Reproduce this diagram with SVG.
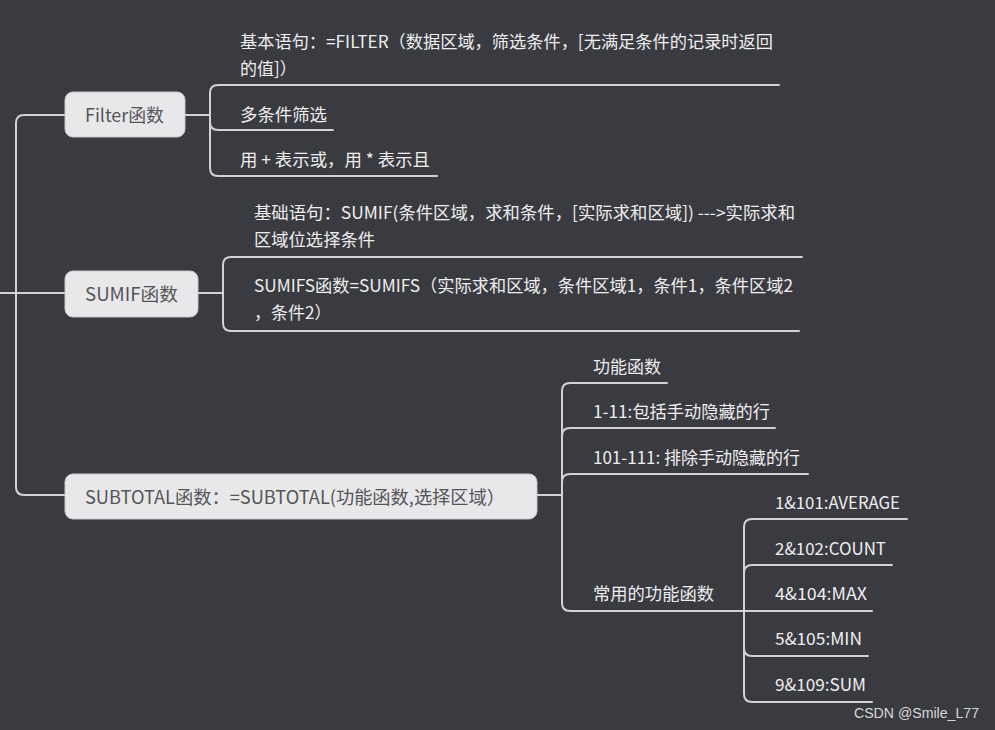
<svg xmlns="http://www.w3.org/2000/svg" width="995" height="730" viewBox="0 0 995 730">
<style>
.bg{fill:#3a3b41}
.c{fill:none;stroke:#d2d2d4;stroke-width:2;stroke-linecap:round}
.n{fill:#e8e8ea;stroke:#c8c8ca;stroke-width:1}
.nt{font-family:"Noto Sans CJK SC","Noto Sans",sans-serif;font-size:18px;fill:#555558;dominant-baseline:central}
.t{font-family:"Noto Sans CJK SC","Noto Sans",sans-serif;font-size:17px;fill:#eeeeee;dominant-baseline:central}
.w{font-family:"Liberation Sans",Arial,sans-serif;font-size:14px;fill:#d8d8d8}
</style>
<rect class="bg" x="0" y="0" width="995" height="730"/>
<g id="connectors">
<path class="c" d="M0,293 H16 M16,293 V123 Q16,115 24,115 H65 M16,293 V487 Q16,495 24,495 H65 M16,293 H65"/>
<path class="c" d="M185,115 H210 M210,115 V93 Q210,85 218,85 H779 M210,115 V122 Q210,130 218,130 H333 M210,115 V168 Q210,176 218,176 H437"/>
<path class="c" d="M198,293 H223 M223,293 V265 Q223,257 231,257 H802 M223,293 V323 Q223,331 231,331 H799"/>
<path class="c" d="M537,495 H562 M562,495 V391 Q562,383 570,383 H667 M562,495 V436 Q562,428 570,428 H775 M562,495 V482 Q562,474 570,474 H808 M562,495 V603 Q562,611 570,611 H744"/>
<path class="c" d="M744,611 H872 M744,611 V527 Q744,519 752,519 H907 M744,611 V573 Q744,565 752,565 H892 M744,611 V648 Q744,656 752,656 H868 M744,611 V694 Q744,702 752,702 H872"/>
</g>
<g id="filter">
<rect class="n" x="65" y="92" width="120" height="45" rx="8"/>
<text class="nt" x="85" y="114" textLength="79" lengthAdjust="spacingAndGlyphs">Filter函数</text>
</g>
<g id="filter-syntax">
<text class="t" x="240" y="40" textLength="533" lengthAdjust="spacingAndGlyphs">基本语句：=FILTER（数据区域，筛选条件，[无满足条件的记录时返回</text>
<text class="t" x="240" y="67">的值]）</text>
</g>
<g id="filter-multi"><text class="t" x="240" y="113" textLength="87" lengthAdjust="spacingAndGlyphs">多条件筛选</text></g>
<g id="filter-or"><text class="t" x="240" y="158" textLength="190" lengthAdjust="spacingAndGlyphs">用 + 表示或，用 * 表示且</text></g>
<g id="sumif">
<rect class="n" x="65" y="271" width="133" height="46" rx="8"/>
<text class="nt" x="85" y="293" textLength="93" lengthAdjust="spacingAndGlyphs">SUMIF函数</text>
</g>
<g id="sumif-syntax">
<text class="t" x="254" y="211" textLength="541" lengthAdjust="spacingAndGlyphs">基础语句：SUMIF(条件区域，求和条件，[实际求和区域]) ---&gt;实际求和</text>
<text class="t" x="254" y="238" textLength="121" lengthAdjust="spacingAndGlyphs">区域位选择条件</text>
</g>
<g id="sumifs">
<text class="t" x="254" y="284" textLength="539" lengthAdjust="spacingAndGlyphs">SUMIFS函数=SUMIFS（实际求和区域，条件区域1，条件1，条件区域2</text>
<text class="t" x="254" y="311">，条件2）</text>
</g>
<g id="subtotal">
<rect class="n" x="65" y="474" width="472" height="45" rx="8"/>
<text class="nt" x="85" y="496" textLength="420" lengthAdjust="spacingAndGlyphs">SUBTOTAL函数：=SUBTOTAL(功能函数,选择区域）</text>
</g>
<g id="func"><text class="t" x="593" y="365" textLength="68" lengthAdjust="spacingAndGlyphs">功能函数</text></g>
<g id="include"><text class="t" x="593" y="410" textLength="177" lengthAdjust="spacingAndGlyphs">1-11:包括手动隐藏的行</text></g>
<g id="exclude"><text class="t" x="593" y="456" textLength="207" lengthAdjust="spacingAndGlyphs">101-111: 排除手动隐藏的行</text></g>
<g id="common"><text class="t" x="593" y="592" textLength="121" lengthAdjust="spacingAndGlyphs">常用的功能函数</text></g>
<g id="avg"><text class="t" x="775" y="501" textLength="125" lengthAdjust="spacingAndGlyphs">1&amp;101:AVERAGE</text></g>
<g id="count"><text class="t" x="775" y="547" textLength="111" lengthAdjust="spacingAndGlyphs">2&amp;102:COUNT</text></g>
<g id="max"><text class="t" x="775" y="592" textLength="92" lengthAdjust="spacingAndGlyphs">4&amp;104:MAX</text></g>
<g id="min"><text class="t" x="775" y="637" textLength="87" lengthAdjust="spacingAndGlyphs">5&amp;105:MIN</text></g>
<g id="sum"><text class="t" x="775" y="683" textLength="91" lengthAdjust="spacingAndGlyphs">9&amp;109:SUM</text></g>
<text class="w" x="854" y="718" textLength="125" lengthAdjust="spacingAndGlyphs">CSDN @Smile_L77</text>
</svg>
